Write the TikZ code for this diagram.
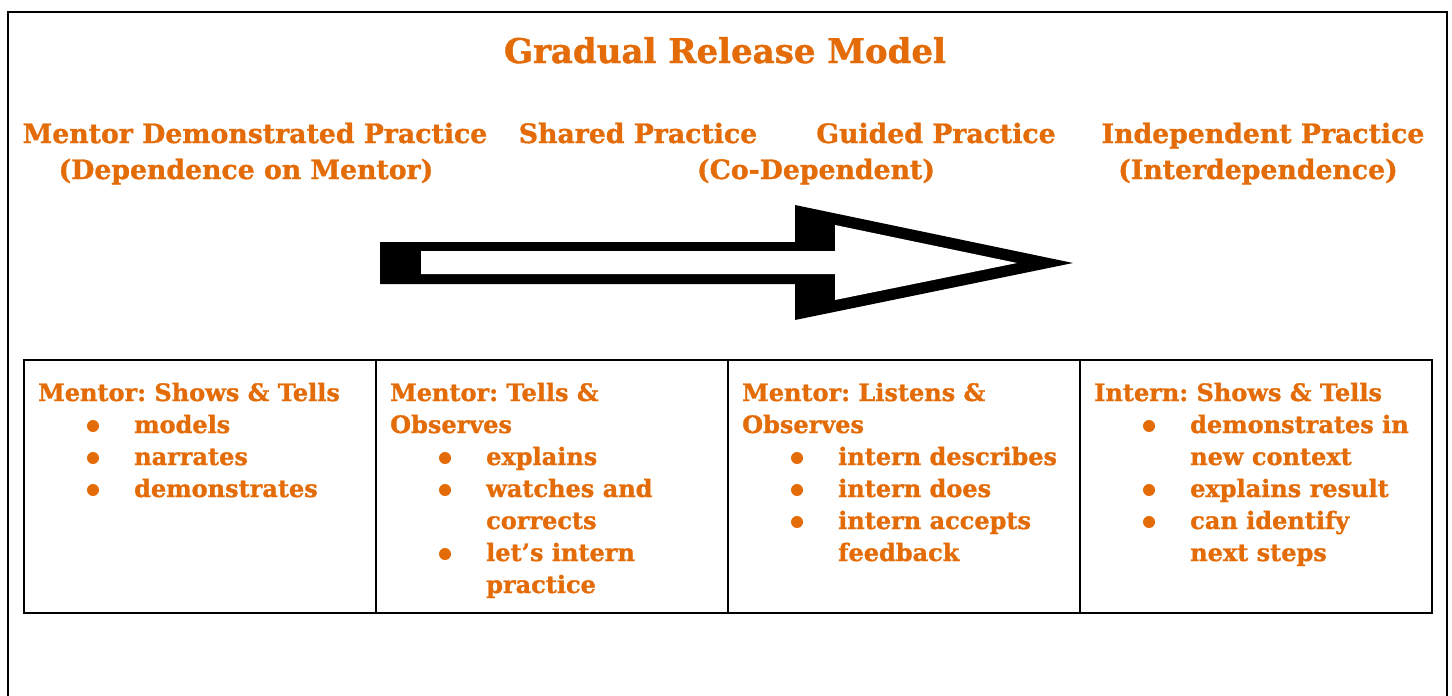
\documentclass[tikz,border=0pt]{standalone}
\usepackage{fontspec}
\setmainfont{DejaVu Serif}[BoldFeatures={FakeBold=1.2}]
\definecolor{grorange}{HTML}{E36C09}
\frenchspacing
\begin{document}
\begin{tikzpicture}[x=1pt,y=-1pt,
  txt/.style={anchor=base west,inner sep=0pt,text=grorange,font=\bfseries\fontsize{24}{24}\selectfont},
  head/.style={anchor=base,inner sep=0pt,text=grorange,font=\bfseries\fontsize{26.7}{26.7}\selectfont},
  ttl/.style={anchor=base,inner sep=0pt,text=grorange,font=\bfseries\fontsize{34}{34}\selectfont},
  frame/.style={line width=2.8pt,black},
  bul/.style={fill=grorange}]
\useasboundingbox (0,0) rectangle (1452,696);
\draw[frame] (8,720) -- (8,12) -- (1447,12) -- (1447,720);
% title
\node[ttl] (title) at (725,63) {Gradual Release Model};
% phase headings
\node[head] (h1a) at (255,143) {Mentor Demonstrated Practice};
\node[head] (h1b) at (246,179) {(Dependence on Mentor)};
\node[head] (h2) at (638,143) {Shared Practice};
\node[head] (h3a) at (936,143) {Guided Practice};
\node[head] (h3b) at (816,179) {(Co-Dependent)};
\node[head] (h4a) at (1263,143) {Independent Practice};
\node[head] (h4b) at (1258,179) {(Interdependence)};
% arrow
\fill[black] (380,242) -- (795,242) -- (795,205) -- (1073,263) -- (795,320) -- (795,284) -- (380,284) -- cycle;
\fill[white] (421,251) -- (835,251) -- (835,225) -- (1017,263) -- (835,300) -- (835,274) -- (421,274) -- cycle;
% table
\draw[frame] (24,360) rectangle (1432,613);
\draw[frame] (376,360) -- (376,613);
\draw[frame] (728,360) -- (728,613);
\draw[frame] (1080,360) -- (1080,613);
% column 1
\node[txt] (c1h) at (38,401) {Mentor: Shows \& Tells};
\node[txt] (c1a) at (134,433) {models};
\node[txt] (c1b) at (134,465) {narrates};
\node[txt] (c1c) at (134,497) {demonstrates};
\fill[bul] (93,426) circle (6);
\fill[bul] (93,458) circle (6);
\fill[bul] (93,490) circle (6);
% column 2
\node[txt] (c2h) at (390,401) {Mentor: Tells \&};
\node[txt] (c2h2) at (390,433) {Observes};
\node[txt] (c2a) at (486,465) {explains};
\node[txt] (c2b) at (486,497) {watches and};
\node[txt] (c2b2) at (486,529) {corrects};
\node[txt] (c2c) at (486,561) {let’s intern};
\node[txt] (c2c2) at (486,593) {practice};
\fill[bul] (445,458) circle (6);
\fill[bul] (445,490) circle (6);
\fill[bul] (445,554) circle (6);
% column 3
\node[txt] (c3h) at (742,401) {Mentor: Listens \&};
\node[txt] (c3h2) at (742,433) {Observes};
\node[txt] (c3a) at (838,465) {intern describes};
\node[txt] (c3b) at (838,497) {intern does};
\node[txt] (c3c) at (838,529) {intern accepts};
\node[txt] (c3c2) at (838,561) {feedback};
\fill[bul] (797,458) circle (6);
\fill[bul] (797,490) circle (6);
\fill[bul] (797,522) circle (6);
% column 4
\node[txt] (c4h) at (1094,401) {Intern: Shows \& Tells};
\node[txt] (c4a) at (1190,433) {demonstrates in};
\node[txt] (c4a2) at (1190,465) {new context};
\node[txt] (c4b) at (1190,497) {explains result};
\node[txt] (c4c) at (1190,529) {can identify};
\node[txt] (c4c2) at (1190,561) {next steps};
\fill[bul] (1149,426) circle (6);
\fill[bul] (1149,490) circle (6);
\fill[bul] (1149,522) circle (6);
\end{tikzpicture}
\end{document}
